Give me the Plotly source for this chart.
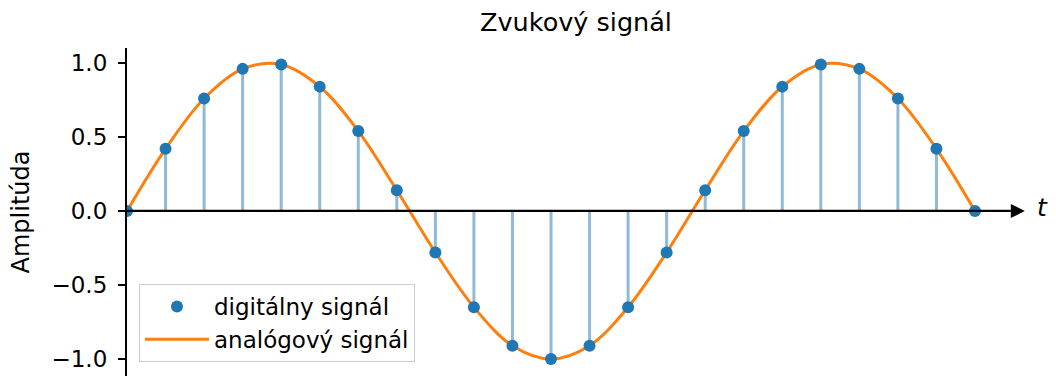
import plotly.graph_objects as go

# Sample index (time axis) and sampled amplitudes
sample_t = list(range(23))
sample_amp = [0.00, 0.42, 0.76, 0.96, 0.99, 0.84, 0.54, 0.14, -0.28, -0.65, -0.91, -1.00,
              -0.91, -0.65, -0.28, 0.14, 0.54, 0.84, 0.99, 0.96, 0.76, 0.42, 0.00]

y_tick_vals = [1.0, 0.5, 0.0, -0.5, -1.0]
y_tick_text = ["1.0", "0.5", "0.0", "\u22120.5", "\u22121.0"]

BLUE = "#1f77b4"
ORANGE = "#ff7f0e"
FONT = "DejaVu Sans"

W, H = 1056, 376
L, R, T, B = 127, 10, 48, 0
px_per_sample = 38.545
x_max = (W - L - R) / px_per_sample
axis_end = 22.93

# stems: vertical segments from zero to each sample
stem_x, stem_y = [], []
for t, a in zip(sample_t, sample_amp):
    stem_x += [t, t, None]
    stem_y += [0, a, None]

fig = go.Figure()
fig.add_trace(go.Scatter(
    x=stem_x, y=stem_y, mode="lines",
    line=dict(color="rgba(31,119,180,0.5)", width=3),
    showlegend=False, hoverinfo="skip"))
fig.add_trace(go.Scatter(
    x=sample_t, y=sample_amp, mode="lines", name="analógový signál",
    line=dict(color=ORANGE, width=3, shape="spline", smoothing=1.0)))
fig.add_trace(go.Scatter(
    x=sample_t, y=sample_amp, mode="markers", name="digitálny signál",
    marker=dict(color=BLUE, size=12, line=dict(width=0))))

# time axis with arrow
fig.add_shape(type="line", xref="x", yref="y", x0=0, x1=axis_end, y0=0, y1=0,
              line=dict(color="black", width=2.2), layer="above")
fig.add_shape(type="path", xref="x", yref="y", xsizemode="pixel", ysizemode="pixel",
              xanchor=axis_end, yanchor=0, path="M 0 -7 L 14 0 L 0 7 Z",
              fillcolor="black", line=dict(color="black", width=0), layer="above")
fig.add_annotation(x=axis_end, y=0, xref="x", yref="y", text="<i>t</i>", showarrow=False,
                   xanchor="left", yanchor="middle", xshift=24, yshift=3,
                   font=dict(family=FONT, size=25, color="black"))

fig.update_layout(
    width=W, height=H,
    margin=dict(l=L, r=R, t=T, b=B, pad=0),
    paper_bgcolor="white", plot_bgcolor="white",
    font=dict(family=FONT, size=23, color="black"),
    title=dict(text="Zvukový signál", x=(L + 1025) / 2 / W, xanchor="center",
               y=1 - 22 / H, yanchor="middle", font=dict(size=25.5)),
    showlegend=True,
    legend=dict(x=(139 - L) / (W - L - R), y=(H - 362) / (H - T - B),
                xanchor="left", yanchor="bottom", traceorder="reversed",
                bgcolor="white", bordercolor="#cccccc", borderwidth=1,
                font=dict(size=23), itemwidth=64, tracegroupgap=0),
    xaxis=dict(range=[0, x_max], showgrid=False, zeroline=False, showline=False,
               showticklabels=False, ticks=""),
    yaxis=dict(range=[-1.115, 1.101], showgrid=False, zeroline=False, showline=True,
               linecolor="black", linewidth=2.2, ticks="outside", ticklen=7,
               tickwidth=2, tickcolor="black", tickvals=y_tick_vals,
               ticktext=y_tick_text, tickfont=dict(size=23), ticklabelstandoff=6,
               title=dict(text="Amplitúda", font=dict(size=24), standoff=15)),
)

fig.write_html("out.html")
